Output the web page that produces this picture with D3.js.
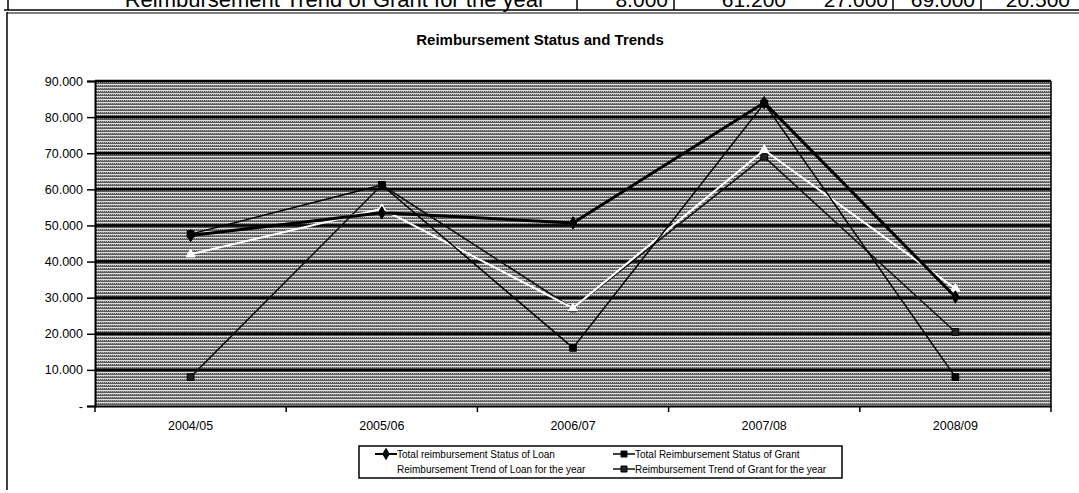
<!DOCTYPE html>
<html>
<head>
<meta charset="utf-8">
<script src="https://cdn.jsdelivr.net/npm/d3@7.8.5/dist/d3.min.js"></script>
<style>
  html, body { margin: 0; padding: 0; background: #fff; }
  svg { display: block; font-family: Arial, "Liberation Sans", sans-serif; }
</style>
</head>
<body>
<div id="chart"></div>
<script>
const categories = ['2004/05', '2005/06', '2006/07', '2007/08', '2008/09'];
const totalLoan = [47.2, 53.5, 50.7, 84.0, 30.2];
const totalGrant = [47.6, 61.2, 16.1, 83.8, 8.0];
const trendLoan = [42.0, 54.6, 27.1, 70.9, 32.5];
const trendGrant = [8.0, 61.2, 27.0, 69.0, 20.5];
const yTicks = [0, 10, 20, 30, 40, 50, 60, 70, 80, 90];

const seriesNames = [
  'Total reimbursement Status of Loan',
  'Total Reimbursement Status of Grant',
  'Reimbursement Trend of Loan for the year',
  'Reimbursement Trend of Grant for the year'
];

const width = 1079, height = 493;
const plot = { left: 95, right: 1051, top: 81, bottom: 406 };
const font = 'Arial, "Liberation Sans", sans-serif';

const svg = d3.select('#chart').append('svg')
  .attr('width', width)
  .attr('height', height);

// halftone-like background of the plot area (scanned look)
const defs = svg.append('defs');
const pat = defs.append('pattern')
  .attr('id', 'dither')
  .attr('patternUnits', 'userSpaceOnUse')
  .attr('width', 2)
  .attr('height', 3);
pat.append('rect').attr('width', 2).attr('height', 3).attr('fill', '#5c5c5c');
pat.append('rect').attr('width', 2).attr('height', 1).attr('fill', '#dcdcdc');
pat.append('rect').attr('x', 1).attr('y', 1).attr('width', 1).attr('height', 1).attr('fill', '#a8a8a8');

// fragment of the table above the chart (cut off by the scan)
const tableG = svg.append('g');
tableG.append('line').attr('x1', 4).attr('x2', width).attr('y1', 10).attr('y2', 10)
  .attr('stroke', '#000').attr('stroke-width', 1.5);
tableG.selectAll('line.cell')
  .data([8, 577, 674, 893, 981])
  .enter().append('line')
  .attr('x1', d => d).attr('x2', d => d)
  .attr('y1', 0).attr('y2', 10)
  .attr('stroke', '#000').attr('stroke-width', 1.5);
tableG.append('text')
  .attr('x', 335).attr('y', 7)
  .attr('text-anchor', 'middle')
  .attr('font-size', 22)
  .text(seriesNames[3]);
const cellRight = [668, 786, 888, 975, 1070];
tableG.selectAll('text.val')
  .data(trendGrant)
  .enter().append('text')
  .attr('x', (d, i) => cellRight[i]).attr('y', 7)
  .attr('text-anchor', 'end')
  .attr('font-size', 21)
  .text(d => d3.format('.3f')(d));

// chart frame
svg.append('line').attr('x1', 7).attr('x2', 7).attr('y1', 12).attr('y2', 490)
  .attr('stroke', '#000').attr('stroke-width', 1.5);
svg.append('line').attr('x1', 7).attr('x2', width).attr('y1', 13).attr('y2', 13)
  .attr('stroke', '#000').attr('stroke-width', 1);

svg.append('text')
  .attr('x', 540).attr('y', 45)
  .attr('text-anchor', 'middle')
  .attr('font-size', 15)
  .attr('font-weight', 'bold')
  .text('Reimbursement Status and Trends');

const x = d3.scaleBand().domain(categories).range([plot.left, plot.right]).padding(0);
const y = d3.scaleLinear().domain([0, 90]).range([plot.bottom, plot.top]);
const cx = d => x(d) + x.bandwidth() / 2;

svg.append('rect')
  .attr('x', plot.left).attr('y', plot.top)
  .attr('width', plot.right - plot.left).attr('height', plot.bottom - plot.top)
  .attr('fill', 'url(#dither)');

// gridlines
svg.append('g').selectAll('line')
  .data(yTicks.filter(t => t > 0))
  .enter().append('line')
  .attr('x1', plot.left).attr('x2', plot.right)
  .attr('y1', d => y(d)).attr('y2', d => y(d))
  .attr('stroke', '#000').attr('stroke-width', 2.5);

svg.append('line').attr('x1', plot.right).attr('x2', plot.right)
  .attr('y1', plot.top).attr('y2', plot.bottom)
  .attr('stroke', '#000').attr('stroke-width', 1.5);

// axes
const yAxis = d3.axisLeft(y).tickValues(yTicks).tickSize(8).tickPadding(4)
  .tickFormat(d => d === 0 ? '-' : d3.format('.3f')(d));
const gy = svg.append('g').attr('transform', `translate(${plot.left},0)`).call(yAxis);
gy.selectAll('text').attr('font-size', 12.5).attr('fill', '#000').attr('font-family', font);
gy.select('.domain').attr('stroke', '#000').attr('stroke-width', 2);
gy.selectAll('.tick line').attr('stroke', '#000').attr('stroke-width', 1.5);

const xAxis = d3.axisBottom(x).tickSize(0).tickPadding(15);
const gx = svg.append('g').attr('transform', `translate(0,${plot.bottom})`).call(xAxis);
gx.selectAll('text').attr('font-size', 12.5).attr('fill', '#000').attr('font-family', font);
gx.select('.domain').attr('stroke', '#000').attr('stroke-width', 2);
gx.selectAll('line.bnd')
  .data(categories.concat(['end']))
  .enter().append('line')
  .attr('class', 'bnd')
  .attr('x1', (d, i) => plot.left + i * x.bandwidth())
  .attr('x2', (d, i) => plot.left + i * x.bandwidth())
  .attr('y1', 0).attr('y2', 6)
  .attr('stroke', '#000').attr('stroke-width', 1.5);

// series
const series = [
  { name: seriesNames[0], values: totalLoan, stroke: '#000', width: 3, symbol: d3.symbolDiamond, size: 45, fill: '#000', mstroke: '#000' },
  { name: seriesNames[1], values: totalGrant, stroke: '#000', width: 1.5, symbol: d3.symbolSquare, size: 45, fill: '#000', mstroke: '#000' },
  { name: seriesNames[2], values: trendLoan, stroke: '#fff', width: 2, symbol: d3.symbolTriangle, size: 35, fill: '#fff', mstroke: '#fff' },
  { name: seriesNames[3], values: trendGrant, stroke: '#111', width: 1.5, symbol: d3.symbolSquare, size: 45, fill: '#222', mstroke: '#000' }
];

const line = d3.line()
  .x((d, i) => cx(categories[i]))
  .y(d => y(d));

const order = [3, 2, 1, 0];
order.forEach(k => {
  const s = series[k];
  const g = svg.append('g');
  g.append('path')
    .attr('d', line(s.values))
    .attr('fill', 'none')
    .attr('stroke', s.stroke)
    .attr('stroke-width', s.width)
    .attr('stroke-linejoin', 'round');
  g.selectAll('path.m')
    .data(s.values)
    .enter().append('path')
    .attr('class', 'm')
    .attr('transform', (d, i) => `translate(${cx(categories[i])},${y(d)})`)
    .attr('d', d3.symbol().type(s.symbol).size(s.size))
    .attr('fill', s.fill)
    .attr('stroke', s.mstroke)
    .attr('stroke-width', 1);
});

// legend
const lg = svg.append('g');
lg.append('rect')
  .attr('x', 359).attr('y', 446).attr('width', 483).attr('height', 32)
  .attr('fill', '#fff').attr('stroke', '#000').attr('stroke-width', 1.5);
const legendPos = [[375, 454], [613, 454], [375, 469], [613, 469]];
series.forEach((s, i) => {
  const [lx, ly] = legendPos[i];
  lg.append('line')
    .attr('x1', lx).attr('x2', lx + 22).attr('y1', ly).attr('y2', ly)
    .attr('stroke', s.stroke).attr('stroke-width', s.width === 3 ? 2 : 1.5);
  lg.append('path')
    .attr('transform', `translate(${lx + 11},${ly})`)
    .attr('d', d3.symbol().type(s.symbol).size(s.size * 0.8))
    .attr('fill', s.fill).attr('stroke', s.mstroke).attr('stroke-width', 1);
  lg.append('text')
    .attr('x', lx + 22).attr('y', ly + 3.5)
    .attr('font-size', 10)
    .text(s.name);
});
</script>
</body>
</html>
